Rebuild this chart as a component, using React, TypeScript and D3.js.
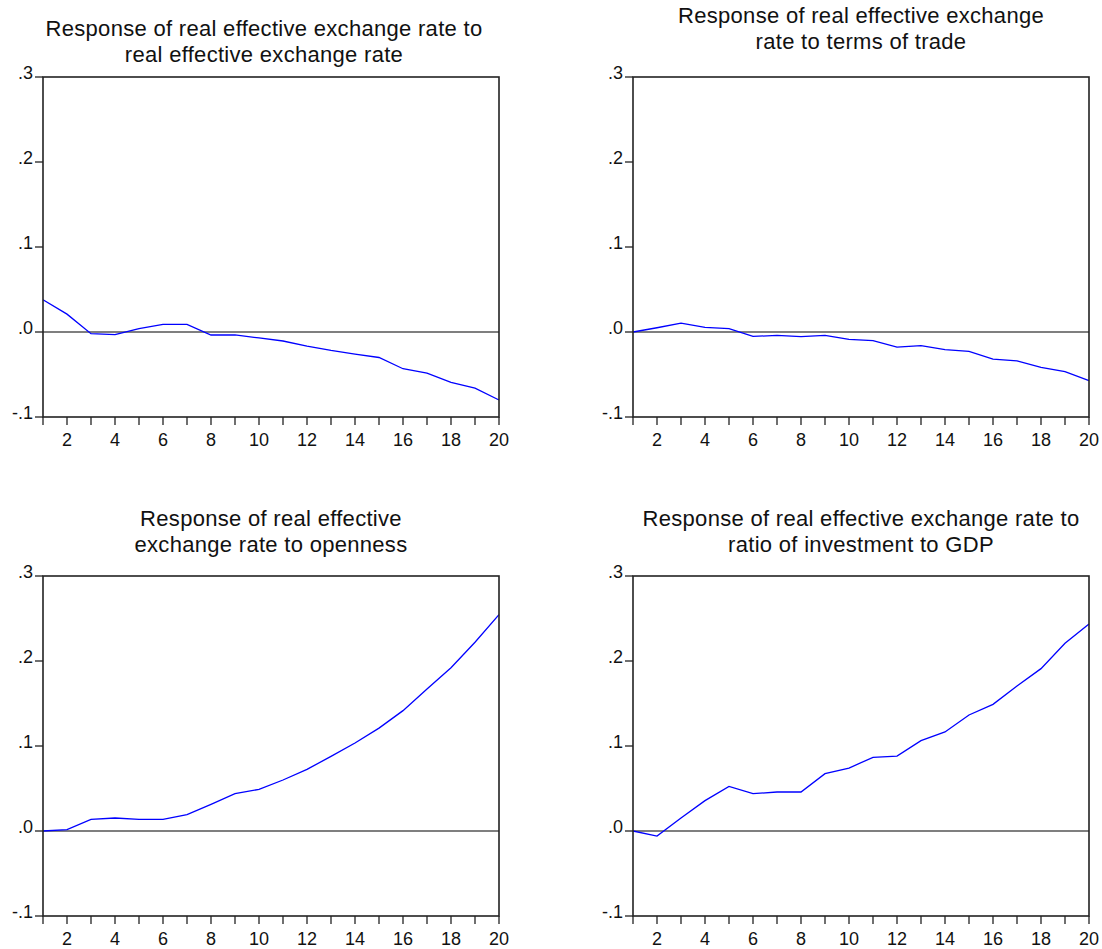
import React, { useEffect } from 'react';
import * as d3 from 'd3';

const periods = d3.range(1, 21);

const reerToReer = [0.038, 0.021, -0.002, -0.003, 0.004, 0.009, 0.009, -0.0035, -0.0035, -0.007,
  -0.0106, -0.0165, -0.0216, -0.026, -0.030, -0.0432, -0.0483, -0.0593, -0.066, -0.080];
const reerToTot = [0, 0.005, 0.0105, 0.0055, 0.004, -0.0052, -0.004, -0.0055, -0.004, -0.0087,
  -0.0102, -0.0177, -0.016, -0.0208, -0.0228, -0.032, -0.034, -0.0416, -0.0467, -0.0573];
const reerToOpen = [0, 0.0016, 0.0137, 0.0153, 0.0137, 0.0137, 0.0192, 0.0314, 0.0439, 0.049,
  0.060, 0.0725, 0.0878, 0.1035, 0.121, 0.1416, 0.167, 0.192, 0.222, 0.2545];
const reerToInv = [0, -0.0059, 0.0153, 0.0357, 0.0525, 0.0439, 0.0459, 0.0459, 0.0675, 0.0741,
  0.0867, 0.0882, 0.1063, 0.1165, 0.1365, 0.149, 0.1706, 0.191, 0.2208, 0.2435];

const yTicks = [-0.1, 0, 0.1, 0.2, 0.3];
const xLabels = [2, 4, 6, 8, 10, 12, 14, 16, 18, 20];

const panels = [
  { title: ['Response of real effective exchange rate to', 'real effective exchange rate'], values: reerToReer, left: 43, top: 77, titleX: 264, titleY: 36 },
  { title: ['Response of real effective exchange', 'rate to terms of trade'], values: reerToTot, left: 633, top: 77, titleX: 861, titleY: 23 },
  { title: ['Response of real effective', 'exchange rate to openness'], values: reerToOpen, left: 43, top: 576, titleX: 271, titleY: 526 },
  { title: ['Response of real effective exchange rate to', 'ratio of investment to GDP'], values: reerToInv, left: 633, top: 576, titleX: 861, titleY: 526 },
];

const W = 456;
const H = 340;
const font = '"Liberation Sans", Arial, sans-serif';

const fmt = (v: number) => {
  if (v === 0) return '.0';
  const s = v.toFixed(1);
  return s.replace('0.', '.');
};

function Panel({ p }: { p: typeof panels[number] }) {
  const x = d3.scaleLinear().domain([1, 20]).range([0, W]);
  const y = d3.scaleLinear().domain([-0.1, 0.3]).range([H, 0]);
  const line = d3.line<number>().x((_, i) => x(periods[i])).y(d => y(d));
  return (
    <g>
      <text x={p.titleX} y={p.titleY} textAnchor="middle" fontFamily={font} fontSize={22} letterSpacing={0.3} fill="#111">
        <tspan x={p.titleX} dy={0}>{p.title[0]}</tspan>
        <tspan x={p.titleX} dy={26}>{p.title[1]}</tspan>
      </text>
      <g transform={`translate(${p.left},${p.top})`}>
        <line x1={0} x2={W} y1={y(0)} y2={y(0)} stroke="#000" strokeWidth={1.2} />
        <path d={line(p.values) || ''} fill="none" stroke="#0000ff" strokeWidth={1.3} />
        <rect x={0} y={0} width={W} height={H} fill="none" stroke="#222" strokeWidth={1.6} />
        {yTicks.map(t => (
          <g key={t}>
            <line x1={-8} x2={0} y1={y(t)} y2={y(t)} stroke="#222" strokeWidth={1.3} />
            <text x={-10} y={y(t)} dy="0.1em" textAnchor="end" fontFamily={font} fontSize={18} fill="#111">{fmt(t)}</text>
          </g>
        ))}
        {periods.map(t => (
          <line key={t} x1={x(t)} x2={x(t)} y1={H} y2={H + 8} stroke="#222" strokeWidth={1.3} />
        ))}
        {xLabels.map(t => (
          <text key={t} x={x(t)} y={H + 29} textAnchor="middle" fontFamily={font} fontSize={18} fill="#111">{t}</text>
        ))}
      </g>
    </g>
  );
}

export default function App() {
  useEffect(() => {
    document.body.style.margin = '0';
  }, []);
  return (
    <svg width={1102} height={949} style={{ display: 'block', background: '#fff' }}>
      {panels.map((p, i) => <Panel key={i} p={p} />)}
    </svg>
  );
}
